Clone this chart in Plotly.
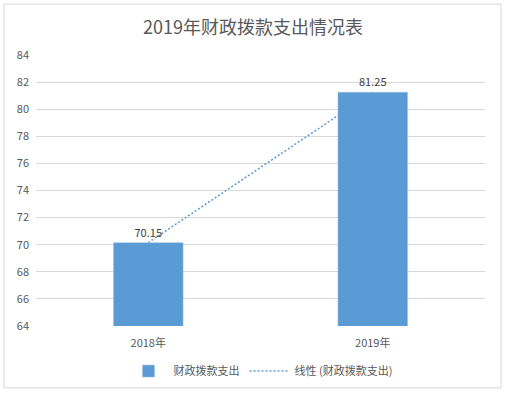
import plotly.graph_objects as go

categories = ["2018年", "2019年"]
values = [70.15, 81.25]
series_name = "财政拨款支出"
trend_name = "线性 (财政拨款支出)"
title = "2019年财政拨款支出情况表"

# linear trend through points (x = 1, 2)
n = len(values)
xs = list(range(1, n + 1))
mx = sum(xs) / n
my = sum(values) / n
slope = sum((x - mx) * (y - my) for x, y in zip(xs, values)) / sum((x - mx) ** 2 for x in xs)
trend = [my + slope * (x - mx) for x in xs]

color = "#5B9BD5"
font = "Microsoft YaHei, Noto Sans CJK SC, sans-serif"

fig = go.Figure()
fig.add_trace(go.Scatter(
    x=categories, y=trend, mode="lines", name=trend_name,
    line=dict(color=color, width=1.5, dash="2px,2px"),
    xaxis="x", yaxis="y", showlegend=True,
))
fig.add_trace(go.Bar(
    x=categories, y=values, name=series_name,
    marker=dict(color=color, line=dict(color="#9DC3E6", width=0.5)),
    width=0.31,
    text=[f"{v:.2f}" for v in values], textposition="outside",
    textfont=dict(size=11, color="#404040"),
    cliponaxis=False,
    xaxis="x2", yaxis="y2",
))

yr = [64, 84]
fig.update_layout(
    width=506, height=396,
    margin=dict(l=36, r=21, t=55, b=69),
    paper_bgcolor="white", plot_bgcolor="white",
    font=dict(family=font, color="#595959", size=11),
    title=dict(text=title, x=0.5, xanchor="center", y=0.93, yanchor="middle",
               font=dict(size=18, color="#595959")),
    xaxis=dict(type="category", showgrid=False, ticks="", showline=False,
               automargin=False, ticklabelstandoff=9,
               tickfont=dict(size=11, color="#595959")),
    yaxis=dict(range=yr, dtick=2, showgrid=True, gridcolor="#D9D9D9", gridwidth=1,
               zeroline=False, ticks="", showline=False, automargin=False,
               ticklabelstandoff=6,
               tickfont=dict(size=11, color="#595959")),
    xaxis2=dict(type="category", overlaying="x", matches="x", visible=False),
    yaxis2=dict(range=yr, overlaying="y", visible=False),
    legend=dict(orientation="h", x=0.5, xanchor="center", y=-0.162, yanchor="middle",
                traceorder="reversed", itemwidth=40,
                font=dict(size=11, color="#595959")),
    shapes=[dict(type="rect", xref="paper", yref="paper",
                 x0=-0.0713, x1=1.0356, y0=-0.228, y1=1.1875,
                 line=dict(color="#D9D9D9", width=1), layer="below")],
    showlegend=True,
)
fig.write_html("out.html", config={"displayModeBar": False},
               post_script="document.body.style.margin='0';")
